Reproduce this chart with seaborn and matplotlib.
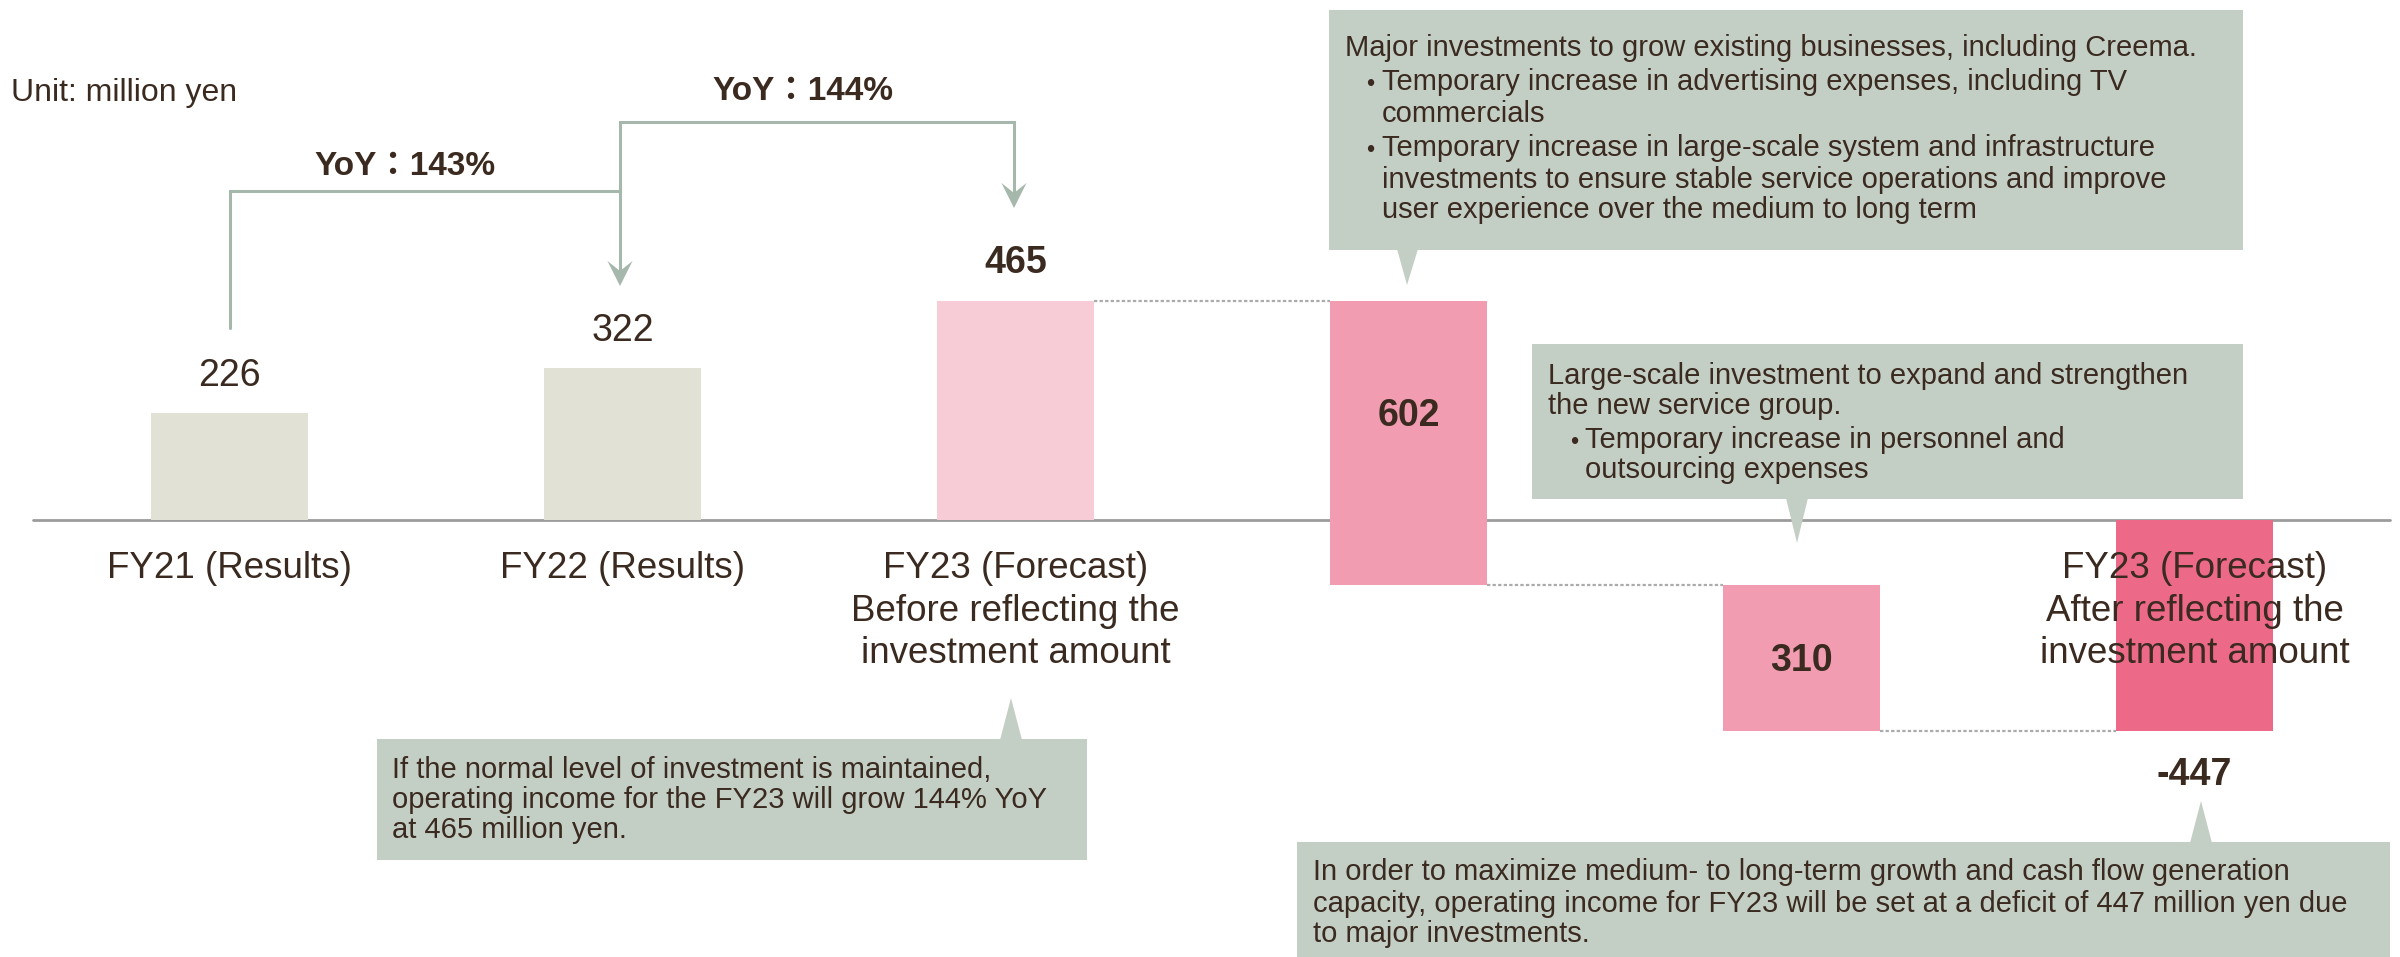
import numpy as np
import pandas as pd
import matplotlib
matplotlib.use("Agg")
import matplotlib.pyplot as plt
from matplotlib.transforms import Affine2D
from matplotlib.patches import Rectangle, Polygon
import seaborn as sns

# ---------------- data ----------------
categories = ["FY21 (Results)", "FY22 (Results)", "FY23 (Forecast) before investment",
              "Existing businesses investment", "New service group investment",
              "FY23 (Forecast) after investment"]
values = [226, 322, 465, 602, 310, -447]
kinds = ["total", "total", "total", "step", "step", "total"]
value_labels = ["226", "322", "465", "602", "310", "-447"]
value_bold = [False, False, True, True, True, True]
tick_labels = [["FY21 (Results)"], ["FY22 (Results)"],
               ["FY23 (Forecast)", "Before reflecting the", "investment amount"],
               [], [],
               ["FY23 (Forecast)", "After reflecting the", "investment amount"]]
bar_colors = ["#E1E1D5", "#E1E1D5", "#F7CCD7", "#F19CB0", "#F19CB0", "#EC6A88"]
yoy_labels = ["YoY：143%", "YoY：144%"]
unit_label = "Unit: million yen"

box1_lines = [(0, "Major investments to grow existing businesses, including Creema."),
              (1, "Temporary increase in advertising expenses, including TV"),
              (2, "commercials"),
              (1, "Temporary increase in large-scale system and infrastructure"),
              (2, "investments to ensure stable service operations and improve"),
              (2, "user experience over the medium to long term")]
box2_lines = [(0, "Large-scale investment to expand and strengthen"),
              (0, "the new service group."),
              (1, "Temporary increase in personnel and"),
              (2, "outsourcing expenses")]
box3_lines = [(0, "If the normal level of investment is maintained,"),
              (0, "operating income for the FY23 will grow 144% YoY"),
              (0, "at 465 million yen.")]
box4_lines = [(0, "In order to maximize medium- to long-term growth and cash flow generation"),
              (0, "capacity, operating income for FY23 will be set at a deficit of 447 million yen due"),
              (0, "to major investments.")]

# ---------------- waterfall geometry from data ----------------
bottoms, heights, ends = [], [], []
running = 0
for v, k in zip(values, kinds):
    if k == "total":
        bottoms.append(0)
        heights.append(v)
        running = v
    else:
        bottoms.append(running - v)
        heights.append(v)
        running = running - v
    ends.append(running)

# ---------------- style ----------------
sns.set_theme(style="white")
plt.rcParams["font.family"] = ["Liberation Sans", "Noto Sans CJK JP", "DejaVu Sans"]
TXT = "#3A2A20"
BOX = "#C3CEC5"
ARROW = "#A6B7AB"

W, H = 2400, 957
fig = plt.figure(figsize=(W / 100, H / 100), dpi=100)
ax = fig.add_axes([0, 0, 1, 1])
PX = Affine2D().scale(1 / W, -1 / H).translate(0, 1) + fig.transFigure

df = pd.DataFrame({"cat": categories, "h": heights})
sns.barplot(data=df, x="cat", y="h", hue="cat", palette=bar_colors, width=0.4,
            saturation=1, legend=False, errorbar=None, ax=ax, zorder=2)
patches = sorted(ax.patches, key=lambda p: p.get_x())
for p, b, h in zip(patches, bottoms, heights):
    p.set_y(b)
    p.set_height(h)
    p.set_linewidth(0)

px_per_unit = 0.472
base_px = 520
ax.set_xlim(-229.5 / 393, (W - 229.5) / 393)
ax.set_ylim(-(H - base_px) / px_per_unit, base_px / px_per_unit)
ax.axis("off")

# baseline
ax.axhline(0, xmin=33 / W, xmax=2390 / W, color="#9C9C9C", lw=2, zorder=1)

# dotted connectors
for i in range(2, 5):
    ax.plot([i + 0.2, i + 0.8], [ends[i], ends[i]], color="#ABABAB", lw=1.6,
            ls=(0, (1.5, 1.0)), zorder=1.5)

# value labels
def to_px_y(v):
    return base_px - v * px_per_unit

val_fs = 27
for i, (lab, bold) in enumerate(zip(value_labels, value_bold)):
    top = max(bottoms[i], bottoms[i] + heights[i])
    bot = min(bottoms[i], bottoms[i] + heights[i])
    if kinds[i] == "total" and values[i] >= 0:
        cy = to_px_y(top) - 41
    elif kinds[i] == "total":
        cy = to_px_y(bot) + 41
    else:
        mid = to_px_y((top + bot) / 2)
        cy = mid - (30 if i == 3 else 0)
    cx = 229.5 + 393 * i
    ax.text(cx, cy + 0.36 * val_fs * 100 / 72, lab, transform=PX, ha="center",
            va="baseline", fontsize=val_fs, color=TXT,
            fontweight="bold" if bold else "normal", zorder=6)

# category labels
cat_fs = 26.5
for i, lines in enumerate(tick_labels):
    cx = 229.5 + 393 * i
    for j, line in enumerate(lines):
        cy = 565 + 42.5 * j
        ax.text(cx, cy + 0.36 * cat_fs * 100 / 72, line, transform=PX, ha="center",
                va="baseline", fontsize=cat_fs, color=TXT, zorder=6)

# unit label
ax.text(11, 90 + 0.36 * 23 * 100 / 72, unit_label, transform=PX, ha="left",
        va="baseline", fontsize=23, color=TXT)

# YoY brackets
def stealth(xt, yt):
    return Polygon([(xt, yt), (xt - 12.5, yt - 25), (xt, yt - 15), (xt + 12.5, yt - 25)],
                   closed=True, transform=PX, facecolor=ARROW, edgecolor="none", zorder=4)

ax.plot([230, 230, 620, 620], [328, 191, 191, 272], transform=PX, color=ARROW,
        lw=2.2, solid_joinstyle="miter", zorder=3)
ax.add_patch(stealth(620, 286))
ax.plot([620, 620, 1014, 1014], [191, 122, 122, 195], transform=PX, color=ARROW,
        lw=2.2, solid_joinstyle="miter", zorder=3)
ax.add_patch(stealth(1014, 208))

yoy_fs = 24
ax.text(405, 163 + 0.36 * yoy_fs * 100 / 72, yoy_labels[0], transform=PX, ha="center",
        va="baseline", fontsize=yoy_fs, fontweight="bold", color=TXT)
ax.text(803, 88 + 0.36 * yoy_fs * 100 / 72, yoy_labels[1], transform=PX, ha="center",
        va="baseline", fontsize=yoy_fs, fontweight="bold", color=TXT)

# callout boxes
def callout(x0, y0, x1, y1, ptr, lines, ys, xs, fs=21):
    ax.add_patch(Rectangle((x0, y0), x1 - x0, y1 - y0, transform=PX, facecolor=BOX,
                           edgecolor="none", zorder=7))
    ax.add_patch(Polygon(ptr, closed=True, transform=PX, facecolor=BOX,
                         edgecolor="none", zorder=7))
    off = 0.36 * fs * 100 / 72
    for (lvl, txt), yy in zip(lines, ys):
        if lvl == 0:
            ax.text(xs[0], yy + off, txt, transform=PX, ha="left", va="baseline",
                    fontsize=fs, color=TXT, zorder=8)
        else:
            if lvl == 1:
                ax.text(xs[1], yy + off, "•", transform=PX, ha="left", va="baseline",
                        fontsize=fs * 0.8, color=TXT, zorder=8)
            ax.text(xs[2], yy + off, txt, transform=PX, ha="left", va="baseline",
                    fontsize=fs, color=TXT, zorder=8)

callout(1329, 10, 2243, 250, [(1397, 249), (1418, 249), (1407, 285)],
        box1_lines, [46, 80, 111, 146, 177, 207], (1345, 1366, 1382))
callout(1532, 344, 2243, 499, [(1786, 498), (1808, 498), (1797, 543)],
        box2_lines, [373, 403, 438, 468], (1548, 1570, 1585))
callout(377, 739, 1087, 860, [(1000, 740), (1022, 740), (1011, 698)],
        box3_lines, [768, 798, 828], (392, 0, 0))
callout(1297, 842, 2390, 957, [(2190, 843), (2212, 843), (2201, 801)],
        box4_lines, [870, 901, 931], (1313, 0, 0))

fig.savefig("out.png", dpi=100)
